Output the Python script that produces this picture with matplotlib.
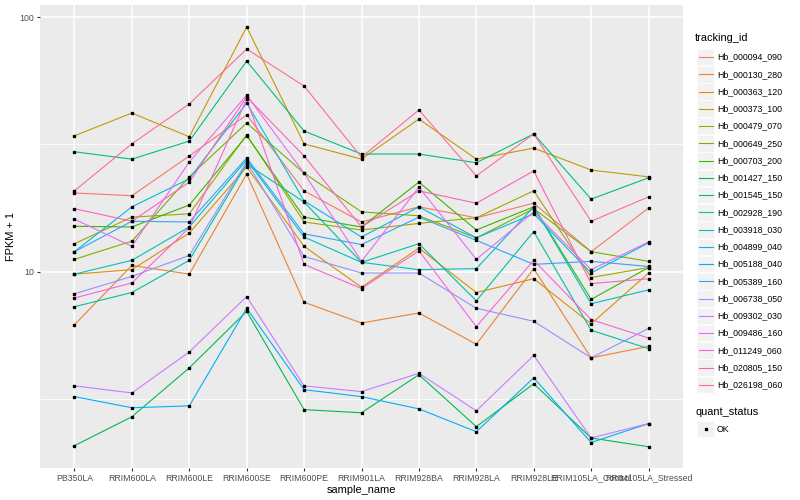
import matplotlib
matplotlib.use("Agg")
import matplotlib.pyplot as plt
from matplotlib.patches import Rectangle
from matplotlib.lines import Line2D
from matplotlib.ticker import NullFormatter

plt.rcParams['font.family'] = ['Liberation Sans', 'DejaVu Sans']

# sample names on the x axis
samples = ['PB350LA', 'RRIM600LA', 'RRIM600LE', 'RRIM600SE', 'RRIM600PE', 'RRIM901LA',
           'RRIM928BA', 'RRIM928LA', 'RRIM928LE', 'RRIM105LA_Control', 'RRIM105LA_Stressed']

# FPKM + 1 per gene
hb_000094_090 = [20.4, 19.9, 28.5, 41.3, 20.8, 15.7, 18.0, 16.3, 18.6, 12.0, 17.8]
hb_000130_280 = [6.2, 10.6, 9.8, 24.2, 7.6, 6.3, 6.9, 5.2, 10.3, 4.6, 5.1]
hb_000363_120 = [9.8, 10.2, 14.2, 25.8, 12.6, 8.7, 12.4, 8.3, 9.4, 6.25, 9.9]
hb_000373_100 = [34.2, 42.0, 33.9, 91.4, 31.8, 27.7, 39.8, 27.7, 30.6, 25.1, 23.6]
hb_000479_070 = [12.9, 16.4, 16.9, 34.5, 15.7, 14.6, 15.5, 16.3, 20.8, 9.5, 10.4]
hb_000649_250 = [11.2, 13.2, 23.6, 38.4, 24.4, 17.2, 16.6, 13.6, 17.7, 12.0, 11.0]
hb_000703_200 = [15.1, 15.0, 18.3, 34.2, 16.4, 15.0, 22.5, 14.6, 18.0, 7.8, 10.4]
hb_001427_150 = [2.08, 2.70, 4.2, 7.0, 2.88, 2.80, 3.95, 2.47, 3.64, 2.23, 2.06]
hb_001545_150 = [29.6, 27.7, 32.6, 67.2, 35.7, 29.0, 29.0, 26.8, 34.8, 19.3, 23.4]
hb_002928_190 = [7.3, 8.3, 11.1, 26.5, 18.8, 10.9, 12.9, 7.7, 14.4, 5.9, 5.0]
hb_003918_030 = [9.8, 11.1, 15.0, 27.5, 13.7, 10.9, 10.2, 10.3, 18.0, 7.5, 8.5]
hb_004899_040 = [12.0, 18.0, 23.2, 46.0, 19.0, 13.7, 18.0, 13.6, 16.9, 9.9, 13.0]
hb_005188_040 = [3.24, 2.93, 2.98, 7.2, 3.45, 3.24, 2.9, 2.36, 3.84, 2.14, 2.54]
hb_005389_160 = [12.0, 15.8, 15.7, 28.0, 14.1, 12.8, 16.4, 13.3, 10.7, 11.0, 10.5]
hb_006738_050 = [8.2, 9.6, 11.6, 27.0, 11.5, 9.9, 9.9, 7.2, 6.4, 4.6, 6.0]
hb_009302_030 = [3.57, 3.35, 4.85, 8.0, 3.57, 3.39, 4.0, 2.85, 4.7, 2.23, 2.54]
hb_009486_160 = [16.1, 12.6, 27.0, 49.4, 24.4, 11.0, 21.5, 11.2, 17.2, 10.2, 13.1]
hb_011249_060 = [7.9, 9.05, 14.9, 47.7, 10.7, 8.6, 12.1, 6.1, 11.1, 6.5, 5.5]
hb_020805_150 = [17.7, 15.8, 22.5, 48.6, 28.5, 15.0, 20.8, 18.6, 24.9, 9.0, 9.4]
hb_026198_060 = [20.8, 31.8, 45.6, 74.9, 53.6, 28.2, 43.2, 23.8, 34.8, 15.8, 19.7]

tracking_ids = ['Hb_000094_090', 'Hb_000130_280', 'Hb_000363_120', 'Hb_000373_100',
                'Hb_000479_070', 'Hb_000649_250', 'Hb_000703_200', 'Hb_001427_150',
                'Hb_001545_150', 'Hb_002928_190', 'Hb_003918_030', 'Hb_004899_040',
                'Hb_005188_040', 'Hb_005389_160', 'Hb_006738_050', 'Hb_009302_030',
                'Hb_009486_160', 'Hb_011249_060', 'Hb_020805_150', 'Hb_026198_060']
series = [hb_000094_090, hb_000130_280, hb_000363_120, hb_000373_100, hb_000479_070,
          hb_000649_250, hb_000703_200, hb_001427_150, hb_001545_150, hb_002928_190,
          hb_003918_030, hb_004899_040, hb_005188_040, hb_005389_160, hb_006738_050,
          hb_009302_030, hb_009486_160, hb_011249_060, hb_020805_150, hb_026198_060]

# ggplot default hue palette for 20 levels
colors = ['#F8766D', '#EA8331', '#D89000', '#C09B00', '#A3A500', '#7CAE00', '#39B600',
          '#00BB4E', '#00BF7D', '#00C1A3', '#00BFC4', '#00BAE0', '#00B0F6', '#35A2FF',
          '#9590FF', '#C77CFF', '#E76BF3', '#FA62DB', '#FF62BC', '#FF6C91']

W, H = 800, 500
fig = plt.figure(figsize=(8, 5), dpi=100)

def fx(px):
    return px / W

def fy(py):
    return 1 - py / H

ax = fig.add_axes([fx(40), fy(468), fx(683) - fx(40), fy(5) - fy(468)])
ax.set_facecolor('#EBEBEB')
for s in ax.spines.values():
    s.set_visible(False)

x = list(range(len(samples)))
for vals, c in zip(series, colors):
    ax.plot(x, vals, color=c, lw=0.8, zorder=2)
for vals in series:
    ax.plot(x, vals, ls='none', marker='s', ms=2.0, color='black', zorder=3)

ax.set_yscale('log')
ax.set_ylim(1.70, 111.5)
ax.set_xlim(-0.6, 10.6)
ax.set_xticks(x)
ax.set_xticklabels(samples)
ax.set_yticks([10, 100])
ax.set_yticklabels(['10', '100'])
ax.set_yticks([10 ** 0.5, 10 ** 1.5], minor=True)
ax.yaxis.set_minor_formatter(NullFormatter())
ax.tick_params(which='major', length=2.2, width=0.8, color='#333333',
               labelsize=6.3, labelcolor='#4D4D4D', pad=1.8)
ax.tick_params(which='minor', length=0)
ax.set_axisbelow(True)
ax.grid(which='major', color='white', lw=1.1)
ax.grid(which='minor', axis='y', color='white', lw=0.55)

ax.set_xlabel('sample_name', fontsize=7.9, labelpad=2)
ax.set_ylabel('FPKM + 1', fontsize=7.9, labelpad=3)

# legend: tracking_id
fig.text(fx(695), fy(38), 'tracking_id', fontsize=7.9, va='center', ha='left')
step = 17.26
for i, (name, c) in enumerate(zip(tracking_ids, colors)):
    cy = 57 + i * step
    fig.patches.append(Rectangle((fx(697), fy(cy + 8.3)), fx(17), 16.6 / H,
                                 transform=fig.transFigure, facecolor='#F2F2F2',
                                 edgecolor='white', lw=0.5))
    fig.lines.append(Line2D([fx(698.5), fx(712.5)], [fy(cy), fy(cy)],
                            transform=fig.transFigure, color=c, lw=0.8))
    fig.text(fx(717), fy(cy), name, fontsize=6.3, va='center', ha='left')

# legend: quant_status
fig.text(fx(695), fy(412), 'quant_status', fontsize=7.9, va='center', ha='left')
fig.patches.append(Rectangle((fx(697), fy(429 + 8.3)), fx(17), 16.6 / H,
                             transform=fig.transFigure, facecolor='#F2F2F2',
                             edgecolor='white', lw=0.5))
fig.lines.append(Line2D([fx(705.5)], [fy(429)], transform=fig.transFigure,
                        ls='none', marker='s', ms=2.0, color='black'))
fig.text(fx(717), fy(429), 'OK', fontsize=6.3, va='center', ha='left')

fig.savefig('out.png', dpi=100)
